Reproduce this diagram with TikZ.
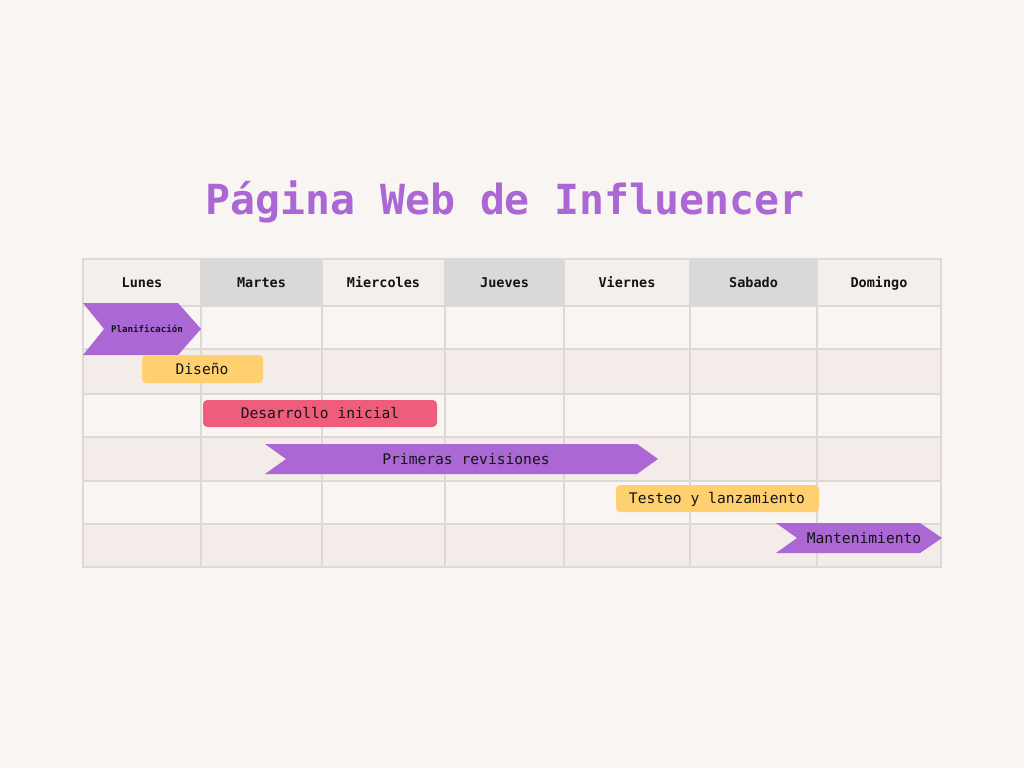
\documentclass[tikz,border=0pt]{standalone}
\usepackage{fontspec}
\setmainfont{DejaVu Sans Mono}
\usetikzlibrary{positioning}
\definecolor{bgcol}{HTML}{F9F5F2}
\definecolor{rowdark}{HTML}{F3ECE9}
\definecolor{hdrlight}{HTML}{F3EFEC}
\definecolor{hdrgray}{HTML}{D9D9D9}
\definecolor{gridcol}{HTML}{DDD9D7}
\definecolor{purplebar}{HTML}{AB68D5}
\definecolor{yellowbar}{HTML}{FFD06F}
\definecolor{pinkbar}{HTML}{EE5E7C}
\definecolor{inkcol}{HTML}{141414}

\begin{document}
\begin{tikzpicture}[x=0.025cm, y=-0.025cm,
    cell/.style={draw=gridcol, line width=1pt},
    daylabel/.style={font=\fontsize{9.6}{11}\selectfont\bfseries, text=inkcol, inner sep=0pt, text height=1.5ex, text depth=0.3ex},
    tasklabel/.style={font=\fontsize{10.4}{12}\selectfont, text=inkcol, inner sep=0pt, text height=1.5ex, text depth=0.3ex},
    tasksmall/.style={font=\fontsize{6.5}{8}\selectfont\bfseries, text=inkcol, inner sep=0pt, text height=1.5ex, text depth=0.3ex},
    chev/.style={fill=purplebar},
    roundbar/.style={rounded corners=3pt},
]
% background and frame
\fill[bgcol] (0,0) rectangle (1024,768);
\useasboundingbox (0,0) rectangle (1024,768);

% Title
\node[font=\fontsize{29.5}{34}\selectfont\bfseries, text=purplebar, inner sep=0pt, anchor=base] (title) at (505,214) {Página Web de Influencer};

% Header row
\foreach \xa/\xb/\day/\col in {83/201/Lunes/hdrlight, 201/322/Martes/hdrgray, 322/445/Miercoles/hdrlight, 445/564/Jueves/hdrgray, 564/690/Viernes/hdrlight, 690/817/Sabado/hdrgray, 817/941/Domingo/hdrlight}{
  \draw[cell, fill=\col] (\xa,259) rectangle (\xb,306);
  \node[daylabel] (d-\day) at ({(\xa+\xb)/2},283) {\day};
}

% Body rows
\foreach \ya/\yb/\col in {306/349/bgcol, 349/394/rowdark, 394/437/bgcol, 437/481/rowdark, 481/524/bgcol, 524/567/rowdark}{
  \foreach \xa/\xb in {83/201, 201/322, 322/445, 445/564, 564/690, 690/817, 817/941}{
    \draw[cell, fill=\col] (\xa,\ya) rectangle (\xb,\yb);
  }
}

% Planificacion
\fill[chev] (83,303) -- (178,303) -- (201,329) -- (178,355) -- (83,355) -- (104,329) -- cycle;
\node[tasksmall] (plan) at (147,328) {Planificación};

% Diseno
\fill[yellowbar, roundbar] (142,355) rectangle (263,383);
\node[tasklabel] (diseno) at (202,370) {Diseño};

% Desarrollo inicial
\fill[pinkbar, roundbar] (203,400) rectangle (437,427);
\node[tasklabel] (desarrollo) at (320,414) {Desarrollo inicial};

% Primeras revisiones
\fill[chev] (265,444) -- (637,444) -- (658,459) -- (637,474) -- (265,474) -- (286,459) -- cycle;
\node[tasklabel] (revisiones) at (466,460) {Primeras revisiones};

% Testeo y lanzamiento
\fill[yellowbar, roundbar] (616,485) rectangle (819,512);
\node[tasklabel] (testeo) at (717,499) {Testeo y lanzamiento};

% Mantenimiento
\fill[chev] (776,523) -- (920,523) -- (942,538) -- (920,553) -- (776,553) -- (797,538) -- cycle;
\node[tasklabel] (mant) at (864,539) {Mantenimiento};
\end{tikzpicture}
\end{document}
